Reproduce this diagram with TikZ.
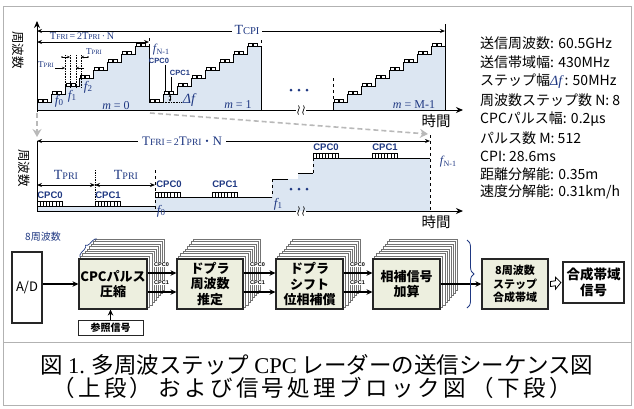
\documentclass[tikz,border=0pt]{standalone}
\usepackage{fontspec}
\setmainfont{Liberation Serif}
\setsansfont{Liberation Sans}
\newfontfamily\jp{Noto Sans CJK JP}
\newfontfamily\jpwide{Noto Sans CJK JP}[LetterSpace=15]
\usetikzlibrary{arrows.meta,decorations.pathreplacing,calc,backgrounds}
\definecolor{dblue}{HTML}{1F3882}
\definecolor{lblue}{HTML}{DCE6F2}
\definecolor{boxfill}{HTML}{EDEFDF}
\newcommand\Tx[3]{{\fontsize{#1}{#1}\selectfont T}{\fontsize{#2}{#2}\selectfont #3}}
\newcommand\fx[3]{{\fontsize{#1}{#1}\selectfont\itshape f}\kern0.3pt\raisebox{-1.5pt}{\fontsize{#2}{#2}\selectfont #3}}
\newcommand\mystairs[1]{%
  \fill[lblue] (#1,110) \foreach \k in {0,...,7}{ -- ++(0,-8) -- ++(14,0)} -- ++(0,64) -- cycle;
  \draw[stairline] (#1,102) -- ++(14,0) \foreach \k in {1,...,7}{ -- ++(0,-8) -- ++(14,0)} -- ++(0,64);
  \foreach \k in {0,...,7}{\foreach \o in {1.5,6.5}{\draw[bump] ({#1+14*\k+\o},{102-8*\k}) -- ++(0,-3) -- ++(3.5,0) -- ++(0,3);}}%
}
\newcommand\hpulse[2]{%
  \draw[line width=0.6pt] (#1,#2) rectangle ++(25,-5);
  \foreach \j in {1,...,7}{\draw[line width=0.5pt] ({#1+3.125*\j},#2) -- ++(0,-5);}%
}
\newcommand\brkmark[2]{%
  \foreach \d in {-2.5,2.5}{\draw[line width=0.7pt] ({#1+\d},{#2-4.5}) .. controls ({#1+\d+3},{#2-2}) and ({#1+\d-3},{#2+2}) .. ({#1+\d},{#2+4.5});}%
}
\begin{document}
\begin{tikzpicture}[x=1pt,y=-1pt,
  lab/.style={text=dblue, inner sep=0pt, font=\rmfamily},
  cpc/.style={text=dblue, inner sep=0pt, font=\sffamily\bfseries\fontsize{7.5}{8}\selectfont},
  cpcb/.style={text=dblue, inner sep=0pt, font=\sffamily\bfseries\fontsize{9.5}{10}\selectfont},
  rt/.style={inner sep=0pt, anchor=west, font=\jp\fontsize{14}{16}\selectfont},
  blk/.style={draw=black!85, line width=1.1pt, fill=boxfill, inner sep=1pt, align=center, font=\jp\bfseries\fontsize{13}{15.5}\selectfont},
  stackbox/.style={draw=black!55, fill=white, line width=0.5pt},
  arr/.style={line width=1.4pt, -{Stealth[length=6pt,width=5.5pt]}},
  dimarr/.style={line width=0.9pt, {Stealth[length=5pt,width=4pt]}-{Stealth[length=5pt,width=4pt]}},
  smallarr/.style={line width=0.6pt, -{Stealth[length=3pt,width=2.5pt]}},
  stairline/.style={line width=0.9pt},
  bump/.style={line width=0.6pt},
  grayarr/.style={draw=gray!55, line width=1.6pt, dash pattern=on 5pt off 3pt, -{Stealth[length=8pt,width=9pt,fill=gray!55]}},
  smalllab/.style={fill=white, inner sep=0.5pt, font=\sffamily\bfseries\fontsize{5.5}{6}\selectfont}
]
\useasboundingbox (0,0) rectangle (634,408);
% frame
\draw[gray!60, line width=0.8pt] (3,6) rectangle (631,405);
\draw[gray!60, line width=0.8pt] (3,342) -- (631,342);

% ================= top chart =================
\mystairs{37}
\mystairs{149}
\mystairs{333}
\draw[stairline] (333,110) -- (333,102);
\draw[dashed, line width=0.7pt] (149,38) -- (149,46);
\draw[dashed, line width=0.7pt] (261,40) -- (261,46);
\draw[dashed, line width=0.7pt] (333,78) -- (333,102);
\draw[line width=0.9pt] (445,24) -- (445,46);
% axes
\draw[line width=1pt, -{Stealth[length=7pt,width=6pt]}] (37,112) -- (37,21);
\draw[line width=1pt] (37,110) -- (296,110);
\draw[line width=1pt, -{Stealth[length=7pt,width=6pt]}] (306,110) -- (463,110);
\brkmark{301}{110}
\node[inner sep=0pt, rotate=-90, font=\jp\fontsize{12.5}{13}\selectfont] (yl1) at (18,50) {周波数};
\node[inner sep=0pt, font=\jp\fontsize{14.5}{15}\selectfont] (xl1) at (436,121) {時間};
% TCPI / TFRI
\draw[dimarr] (37,31) -- (445,31);
\node[lab, fill=white, inner xsep=3pt, inner ysep=1pt] (tcpi) at (247,30) {\Tx{14}{10.5}{CPI}};
\draw[dimarr] (37,42) -- (149,42);
\node[lab] (tfri1) at (82,36) {\Tx{10.5}{7.5}{FRI}\,=\,2\Tx{10.5}{7.5}{PRI}{\fontsize{10}{10}\selectfont\,·\,N}};
% TPRI small annotations
\foreach \xx in {65,70,76,81}{\draw[densely dotted, line width=0.6pt] (\xx,55) -- (\xx,88);}
\draw[smallarr] (62,57) -- (70,57);
\draw[smallarr] (88,57) -- (81,57);
\fill (62,57) circle (0.9);
\fill (88,57) circle (0.9);
\draw[smallarr] (55,68) -- (65,68);
\draw[smallarr] (84,68) -- (76,68);
\node[lab] (tpa) at (94,52) {\Tx{9}{6.5}{PRI}};
\node[lab] (tpb) at (46,65) {\Tx{9}{6.5}{PRI}};
% f labels
\node[lab] (f0) at (59,101) {\fx{13}{9}{0}};
\node[lab] (f1) at (72,96) {\fx{13}{9}{1}};
\node[lab] (f2) at (88,87) {\fx{13}{9}{2}};
\node[lab] (fn1) at (161,50) {\fx{12}{8}{N-1}};
\node[lab] (m0) at (116,106) {\fontsize{12}{12}\selectfont\itshape m\upshape\ = 0};
\node[lab] (m1) at (238,105) {\fontsize{12}{12}\selectfont\itshape m\upshape\ = 1};
\node[lab] (mM) at (414,105) {\fontsize{12}{12}\selectfont\itshape m\upshape\ = M-1};
% Delta f
\draw[densely dotted, line width=0.6pt] (163,102) -- (181,102);
\draw[line width=0.6pt, {Stealth[length=2.5pt,width=2.5pt]}-{Stealth[length=2.5pt,width=2.5pt]}] (170,94.5) -- (170,101.5);
\node[lab] (df) at (189,100) {\fontsize{14}{14}\selectfont\itshape Δf};
% CPC0/CPC1 pointers
\node[cpc] (tc0) at (159,61) {CPC0};
\node[cpc] (tc1) at (180,73) {CPC1};
\draw[line width=0.6pt] (165.5,64.5) -- (165.5,91);
\draw[line width=0.6pt] (171.5,76.5) -- (171.5,91);
% dots
\foreach \xx in {291,299,307}{\fill[dblue] (\xx,90) circle (1.5);}

% gray dashed connectors
\draw[grayarr] (37,113) -- (37,137);
\draw[grayarr] (150,113) -- (428,134);

% ================= bottom chart =================
\fill[lblue] (37,206) rectangle (155,211);
\fill[lblue] (155,211) -- (155,197) -- (272,197) -- (272,179) -- (298,179) -- (298,173) -- (313,173) -- (313,158) -- (430,158) -- (430,211) -- cycle;
\draw[stairline] (37,206) -- (155,206);
\draw[stairline] (155,197) -- (272,197);
\draw[stairline] (272,179) -- (288,179);
\draw[stairline] (298,173) -- (313,173);
\draw[stairline] (313,158) -- (430,158);
\draw[dashed, line width=0.8pt] (155,170) -- (155,211);
\draw[dashed, line width=0.8pt] (272,179) -- (272,197);
\draw[dashed, line width=0.8pt] (313,158) -- (313,173);
\draw[dashed, line width=0.8pt] (430,135) -- (430,211);
\draw[densely dotted, line width=0.7pt] (95,170) -- (95,206);
\hpulse{37}{206}
\hpulse{95}{206}
\hpulse{155}{197}
\hpulse{212}{197}
\hpulse{313}{158}
\hpulse{372}{158}
\node[cpcb] (bc0a) at (50,195) {CPC0};
\node[cpcb] (bc1a) at (108,195) {CPC1};
\node[cpcb] (bc0b) at (169,184) {CPC0};
\node[cpcb] (bc1b) at (225,184) {CPC1};
\node[cpcb] (bc0c) at (326,147) {CPC0};
\node[cpcb] (bc1c) at (385,147) {CPC1};
% axes
\draw[line width=1pt] (37,141) -- (37,211);
\draw[line width=1pt] (37,211) -- (296,211);
\draw[line width=1pt, -{Stealth[length=7pt,width=6pt]}] (306,211) -- (463,211);
\brkmark{301}{211}
\node[inner sep=0pt, rotate=-90, font=\jp\fontsize{12.5}{13}\selectfont] (yl2) at (24,168) {周波数};
\node[inner sep=0pt, font=\jp\fontsize{14.5}{15}\selectfont] (xl2) at (436,222) {時間};
% TFRI / TPRI
\draw[dimarr] (37,141) -- (430,141);
\node[lab, fill=white, inner xsep=4pt, inner ysep=2pt] (tfri2) at (182,141) {\Tx{13}{9.5}{FRI}\,=\,2\Tx{13}{9.5}{PRI}{\jp\fontsize{11}{11}\selectfont ・}{\fontsize{13}{13}\selectfont N}};
\draw[dimarr] (37,185) -- (95,185);
\draw[dimarr] (95,185) -- (155,185);
\node[lab] (tp1) at (66,175) {\Tx{14}{10}{PRI}};
\node[lab] (tp2) at (126,175) {\Tx{14}{10}{PRI}};
\node[lab] (bf0) at (161,211) {\fx{13}{9}{0}};
\node[lab] (bf1) at (278,204) {\fx{13}{9}{1}};
\node[lab] (bfn) at (448,162) {\fx{12}{8}{N-1}};
\foreach \xx in {291,299,307}{\fill[dblue] (\xx,189) circle (1.5);}

% ================= parameter list =================
\node[rt] (r1) at (480,43) {送信周波数: 60.5GHz};
\node[rt] (r2) at (480,62) {送信帯域幅: 430MHz};
\node[rt] (r3) at (480,81) {ステップ幅{\color{dblue}\rmfamily\itshape Δf}\,: 50MHz};
\node[rt] (r4) at (480,100) {周波数ステップ数 N: 8};
\node[rt] (r5) at (480,119) {CPCパルス幅: 0.2μs};
\node[rt] (r6) at (480,138) {パルス数 M: 512};
\node[rt] (r7) at (480,156) {CPI: 28.6ms};
\node[rt] (r8) at (480,174) {距離分解能: 0.35m};
\node[rt] (r9) at (480,192) {速度分解能: 0.31km/h};

% ================= block diagram =================
\node[blk, fill=white, font=\jp\fontsize{13}{15}\selectfont, minimum width=30pt, minimum height=71pt] (ad) at (27,287.5) {A/D};
\node[blk, minimum width=68pt, minimum height=50pt] (b1) at (113,284) {CPCパルス\\圧縮};
\node[blk, minimum width=66pt, minimum height=50pt] (b2) at (210,284) {ドプラ\\周波数\\推定};
\node[blk, minimum width=67pt, minimum height=50pt] (b3) at (309.5,284) {ドプラ\\シフト\\位相補償};
\node[blk, minimum width=67pt, minimum height=50pt] (b4) at (406.5,284) {相補信号\\加算};
\node[blk, font=\jp\bfseries\fontsize{11}{13.5}\selectfont, minimum width=66pt, minimum height=50pt] (b5) at (515,284) {8周波数\\ステップ\\合成帯域};
\node[blk, fill=white, font=\jp\bfseries\fontsize{13.5}{16}\selectfont, minimum width=61pt, minimum height=41pt] (b6) at (593.5,282.5) {合成帯域\\信号};
\node[blk, fill=white, line width=0.8pt, font=\jp\bfseries\fontsize{10}{11}\selectfont, minimum width=65pt, minimum height=15pt, inner sep=0pt] (ref) at (110.5,328) {参照信号};
\begin{scope}[on background layer]
  \foreach \b in {b1,b2,b3,b4}{
    \foreach \i in {8,...,1}{
      \draw[stackbox] ($(\b.south west)+({2.1*\i},{-2.4*\i})$) rectangle ($(\b.north east)+({2.1*\i},{-2.4*\i})$);
    }
  }
\end{scope}
\draw[arr] (ad.east |- b1.west) -- (b1.west);
\draw[arr] (ref.north) -- (ref.north |- b1.south);
\foreach \p/\q in {b1/b2,b2/b3,b3/b4}{
  \draw[arr] ($(\p.east)+(0,-11)$) -- ($(\q.west)+(0,-11)$);
  \draw[arr] ($(\p.east)+(0,8)$) -- ($(\q.west)+(0,8)$);
  \node[smalllab] at ($(\p.east)+(14,-19.5)$) {CPC0};
  \node[smalllab] at ($(\p.east)+(14,-1.5)$) {CPC1};
}
\draw[arr] (b4.east) -- (b5.west);
% hollow arrow
\coordinate (ha) at ($(b5.east)!0.5!(b6.west)$);
\draw[line width=0.8pt, fill=white] ($(b5.east)+(2,-2.5)$) -- ($(ha)+(0,-2.5)$) -- ($(ha)+(0,-6)$) -- ($(b6.west)+(-1.5,0)$) -- ($(ha)+(0,6)$) -- ($(ha)+(0,2.5)$) -- ($(b5.east)+(2,2.5)$) -- cycle;
% braces
\draw[dblue, line width=0.8pt, decorate, decoration={brace, amplitude=7pt}] (467,240) -- (467,308);
\draw[dblue, line width=0.7pt, decorate, decoration={brace, amplitude=4pt}] (80,257) -- (97,239);
\node[inner sep=0pt, text=dblue, font=\jp\fontsize{10}{10}\selectfont] (lab8) at (43,237) {8周波数};

% ================= caption =================
\node[inner sep=0pt, font=\jp\fontsize{22.5}{25}\selectfont] (c1) at (317,365) {図 {\rmfamily 1.} 多周波ステップ {\rmfamily CPC} レーダーの送信シーケンス図};
\node[inner sep=0pt, font=\jpwide\fontsize{22.5}{25}\selectfont] (c2) at (312,388) {（上段）\hspace{6pt}および信号処理ブロック図\hspace{6pt}（下段）};
\end{tikzpicture}
\end{document}
